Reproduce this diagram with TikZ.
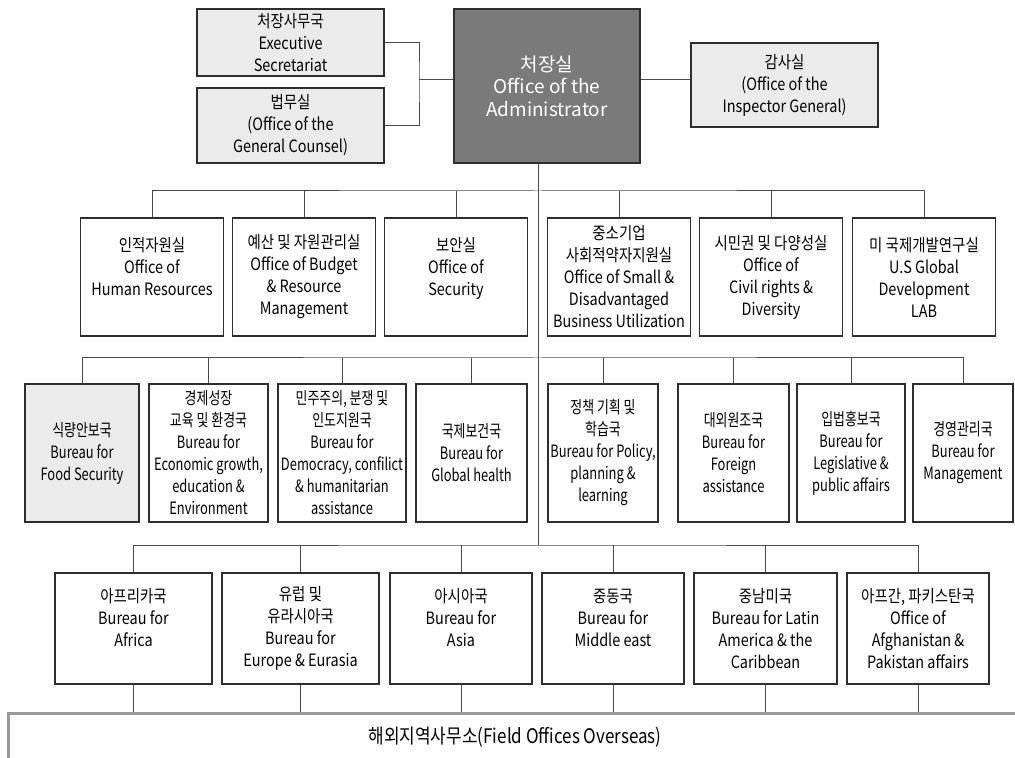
\documentclass[tikz,border=0pt]{standalone}
\usepackage{fontspec}
\setmainfont{Noto Sans CJK KR}[FakeStretch=0.85]
\newfontfamily\adminfont{Noto Sans CJK KR}
\newfontfamily\narrowfont{Noto Sans CJK KR}[FakeStretch=0.76]
\definecolor{boxline}{HTML}{2E2E2E}
\definecolor{linkgray}{HTML}{4A4A4A}
\definecolor{staffgray}{HTML}{EBEBEB}
\definecolor{headgray}{HTML}{7A7A7A}
\definecolor{fieldgray}{HTML}{999999}
\tikzset{
  unit/.style={draw=boxline, line width=0.6pt, inner sep=0pt, align=center,
    font=\fontsize{8.5}{11}\selectfont},
  staff/.style={unit, fill=staffgray},
  link/.style={draw=linkgray, line width=0.5pt},
}
\begin{document}
\begin{tikzpicture}[x=0.5pt,y=-0.5pt]
  \useasboundingbox (0,0) rectangle (1015,758);

  % administrator and staff offices
  \node[unit, fill=headgray, text=white, minimum width=93pt, minimum height=77pt,
    font=\adminfont\fontsize{9.5}{11.3}\selectfont] (admin) at (547,86)
    {처장실\\Office of the\\Administrator};
  \node[staff, minimum width=93.5pt, minimum height=33.5pt] (exec) at (290.5,42.5)
    {처장사무국\\Executive\\Secretariat};
  \node[staff, minimum width=93.5pt, minimum height=37.5pt] (counsel) at (290.5,125.5)
    {법무실\\(Office of the\\General Counsel)};
  \node[staff, minimum width=93.5pt, minimum height=42pt] (insp) at (784.5,85)
    {감사실\\(Office of the\\Inspector General)};

  \coordinate (jn) at (419,80);
  \draw[link] (exec.east) -| (jn) |- (counsel.east);
  \draw[link] (jn) -- (admin.west |- jn);
  \draw[link] (admin.east |- jn) -- (insp.west |- jn);

  % offices
  \foreach \n/\x/\t in {
    1/152/{인적자원실\\Office of\\Human Resources\\~},
    2/304/{예산 및 자원관리실\\Office of Budget\\\& Resource\\Management},
    3/456/{보안실\\Office of\\Security\\~},
    4/619/{중소기업\\사회적약자지원실\\Office of Small \&\\Disadvantaged\\Business Utilization},
    5/771/{시민권 및 다양성실\\Office of\\Civil rights \&\\Diversity},
    6/924/{미 국제개발연구실\\U.S Global\\Development\\LAB}}
    \node[unit, minimum width=71.5pt, minimum height=59pt] (o\n) at (\x,277) {\t};

  % bureaus
  \foreach \n/\x/\w/\f/\t in {
    1/82/114/staffgray/{식량안보국\\Bureau for\\Food Security},
    2/208.5/119/white/{경제성장\\교육 및 환경국\\Bureau for\\Economic growth,\\education \&\\Environment},
    3/342/128/white/{민주주의, 분쟁 및\\인도지원국\\Bureau for\\Democracy, confilict\\\& humanitarian\\assistance},
    4/471.5/111/white/{국제보건국\\Bureau for\\Global health},
    5/603/110/white/{정책 기획 및\\학습국\\Bureau for Policy,\\planning \&\\learning},
    6/733.5/111/white/{대외원조국\\Bureau for\\Foreign\\assistance},
    7/851/108/white/{입법홍보국\\Bureau for\\Legislative \&\\public affairs},
    8/963/100/white/{경영관리국\\Bureau for\\Management}}
    \node[unit, fill=\f, font=\narrowfont\fontsize{8.5}{11}\selectfont,
      minimum width=\w*0.5pt, minimum height=69pt] (b\n) at (\x,453) {\t};

  % regional bureaus
  \foreach \n/\x/\w/\t in {
    1/133.5/157/{아프리카국\\Bureau for\\Africa\\~},
    2/300.5/157/{유럽 및\\유라시아국\\Bureau for\\Europe \& Eurasia},
    3/461/142/{아시아국\\Bureau for\\Asia\\~},
    4/613/142/{중동국\\Bureau for\\Middle east\\~},
    5/765.5/143/{중남미국\\Bureau for Latin\\America \& the\\Caribbean},
    6/918/142/{아프간, 파키스탄국\\Office of\\Afghanistan \&\\Pakistan affairs}}
    \node[unit, minimum width=\w*0.5pt, minimum height=55.5pt] (c\n) at (\x,628.5) {\t};

  % spine and buses
  \coordinate (bus2) at (538,191);
  \coordinate (bus3) at (538,358);
  \coordinate (bus4) at (538,545);
  \draw[link] (admin.south -| bus4) -- (bus4);
  \draw[link] (o1.north) |- (bus2) -| (o6.north);
  \foreach \n in {2,...,5}
    \draw[link] (o\n.north) -- (o\n.north |- bus2);
  \draw[link] (b1.north) |- (bus3) -| (b8.north);
  \foreach \n in {2,...,7}
    \draw[link] (b\n.north) -- (b\n.north |- bus3);
  \draw[link] (c1.north) |- (bus4) -| (c6.north);
  \foreach \n in {2,...,5}
    \draw[link] (c\n.north) -- (c\n.north |- bus4);

  % field offices
  \coordinate (fieldtop) at (8,713);
  \foreach \n in {1,...,6}
    \draw[link] (c\n.south) -- (c\n.south |- fieldtop);
  \draw[fieldgray, line width=1.5pt] (8,762) -- (fieldtop) -- (1020,713);
  \node[font=\fontsize{10}{12}\selectfont] (field) at (515,737)
    {해외지역사무소(Field Offices Overseas)};
\end{tikzpicture}
\end{document}
